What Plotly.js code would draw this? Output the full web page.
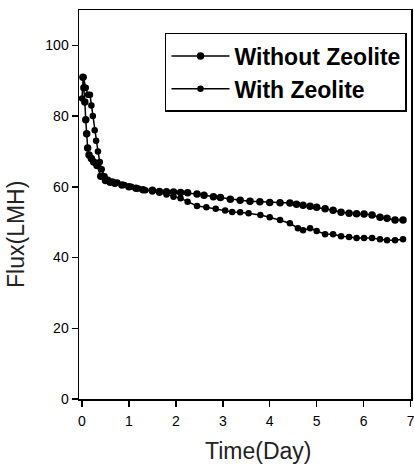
<!DOCTYPE html>
<html>
<head>
<meta charset="utf-8">
<script src="https://cdn.plot.ly/plotly-3.0.1.min.js"></script>
<style>html,body{margin:0;padding:0;background:#fff;}#chart{width:414px;height:465px;}</style>
</head>
<body>
<div id="chart"></div>
<script>
// Series names
const seriesNames = ["Without Zeolite", "With Zeolite"];

// Without Zeolite: time (day) and flux (LMH)
const timeWithout = [0.02, 0.04, 0.06, 0.08, 0.10, 0.12, 0.15, 0.20, 0.25, 0.32, 0.40, 0.50, 0.60, 0.70, 0.85, 1.00, 1.15, 1.30, 1.50, 1.65, 1.80, 1.95, 2.10, 2.25, 2.45, 2.60, 2.80, 2.95, 3.16, 3.37, 3.58, 3.79, 4.00, 4.22, 4.43, 4.57, 4.71, 4.86, 5.00, 5.18, 5.35, 5.52, 5.69, 5.85, 6.01, 6.18, 6.35, 6.50, 6.67, 6.84];
const fluxWithout = [91, 88, 84, 79, 75, 71, 69, 68, 67, 66, 63, 61.8, 61.3, 61, 60.5, 60, 59.6, 59.2, 59, 58.7, 58.6, 58.5, 58.4, 58.3, 58.0, 57.6, 57.2, 57.0, 56.5, 56.2, 55.9, 55.8, 55.6, 55.5, 55.4, 55.1, 54.8, 54.5, 54.2, 53.8, 53.4, 52.8, 52.5, 52.4, 52.3, 52.0, 51.4, 51.1, 50.6, 50.6];

// With Zeolite: time (day) and flux (LMH)
const timeWith = [0.00, 0.03, 0.08, 0.13, 0.17, 0.20, 0.23, 0.27, 0.30, 0.34, 0.38, 0.42, 0.48, 0.55, 0.65, 0.75, 0.90, 1.05, 1.20, 1.35, 1.50, 1.65, 1.80, 1.95, 2.10, 2.25, 2.45, 2.65, 2.85, 3.05, 3.20, 3.37, 3.55, 3.80, 4.00, 4.22, 4.43, 4.60, 4.71, 4.86, 5.00, 5.18, 5.35, 5.52, 5.69, 5.85, 6.01, 6.18, 6.35, 6.50, 6.67, 6.84];
const fluxWith = [85, 91, 88, 86, 86, 83, 80, 76, 73, 70, 67, 65, 63, 62, 61.5, 61.2, 60.5, 60, 59.5, 59, 58.7, 58.3, 57.8, 57.2, 56.8, 55.8, 54.6, 54.2, 53.8, 53.3, 52.9, 52.8, 52.5, 52.0, 51.4, 50.6, 49.7, 48.3, 47.7, 48.3, 47.5, 46.6, 46.6, 46.0, 45.8, 45.5, 45.5, 45.5, 45.2, 44.9, 44.9, 45.2];

// Axis ticks and titles
const xTicks = [0, 1, 2, 3, 4, 5, 6, 7];
const yTicks = [0, 20, 40, 60, 80, 100];
const xTitle = "Time(Day)";
const yTitle = "Flux(LMH)";

const traces = [
  {x: timeWithout, y: fluxWithout, name: seriesNames[0], type: "scatter", mode: "lines+markers",
   line: {color: "#000", width: 1.5}, marker: {color: "#000", size: 7.5, symbol: "circle"}},
  {x: timeWith, y: fluxWith, name: seriesNames[1], type: "scatter", mode: "lines+markers",
   line: {color: "#000", width: 1.5}, marker: {color: "#000", size: 6.5, symbol: "circle"}}
];

const FONT = "Liberation Sans, Arial, sans-serif";
const axisCommon = {
  showline: true, linecolor: "#000", linewidth: 1.5, mirror: true,
  ticks: "outside", ticklen: 6, tickwidth: 1.5, tickcolor: "#000",
  showgrid: false, zeroline: false, ticklabeloverflow: "allow",
  tickfont: {family: FONT, size: 14, color: "#000"}
};

const layout = {
  width: 414, height: 465,
  margin: {l: 79, r: 3, t: 10, b: 66},
  paper_bgcolor: "#fff", plot_bgcolor: "#fff",
  showlegend: true,
  legend: {
    x: 0.259, y: 0.941, xanchor: "left", yanchor: "top",
    bgcolor: "#fff", bordercolor: "#000", borderwidth: 1.5,
    itemwidth: 58,
    font: {family: FONT, size: 23, color: "#000", weight: "bold"},
    tracegroupgap: 0
  },
  xaxis: Object.assign({}, axisCommon, {
    range: [-0.064, 7.01], tickvals: xTicks, ticktext: xTicks.map(String),
    ticklabelstandoff: 3
  }),
  yaxis: Object.assign({}, axisCommon, {
    range: [0, 110], tickvals: yTicks, ticktext: yTicks.map(String)
  }),
  annotations: [
    {text: xTitle, xref: "paper", yref: "paper", x: 0.539, y: -0.1337, xanchor: "center", yanchor: "middle",
     showarrow: false, font: {family: FONT, size: 23, color: "#222"}},
    {text: yTitle, xref: "paper", yref: "paper", x: -0.19, y: 0.424, xanchor: "center", yanchor: "middle",
     textangle: -90, showarrow: false, font: {family: FONT, size: 23, color: "#222"}}
  ]
};

Plotly.newPlot("chart", traces, layout, {displayModeBar: false, staticPlot: true});
</script>
</body>
</html>
